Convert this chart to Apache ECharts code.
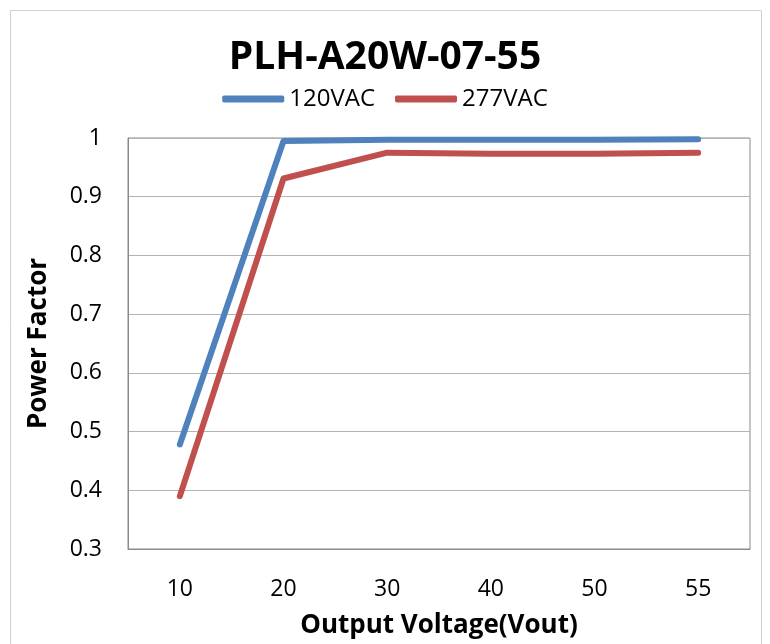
<!DOCTYPE html>
<html><head><meta charset="utf-8">
<script src="https://cdn.jsdelivr.net/npm/echarts@6/dist/echarts.min.js"></script>
<style>html,body{margin:0;padding:0;background:#fff}#c{width:770px;height:644px}</style>
</head><body><div id="c"></div>
<script>
const categories = ['10','20','30','40','50','55'];
const series120 = [0.478, 0.995, 0.997, 0.997, 0.997, 0.998];
const series277 = [0.390, 0.931, 0.975, 0.973, 0.973, 0.975];
const yTicks = [0.3, 0.4, 0.5, 0.6, 0.7, 0.8, 0.9, 1];

const chart = echarts.init(document.getElementById('c'), null, {renderer:'canvas'});
const font = '"Open Sans", "Liberation Sans", sans-serif';
chart.setOption({
  animation:false,
  backgroundColor:'#fff',
  graphic:[{type:'rect', shape:{x:10.5,y:10.5,width:751,height:640}, style:{fill:'none', stroke:'#d0d0d0', lineWidth:1}, silent:true}],
  title:{text:'PLH-A20W-07-55', left:'center', top:33,
    textStyle:{fontFamily:font, fontSize:39, fontWeight:'bold', color:'#000'}},
  legend:{top:82, left:'center', itemWidth:62, itemHeight:7, itemGap:20,
    icon:'roundRect',
    textStyle:{fontFamily:font, fontSize:24, color:'#000'},
    data:['120VAC','277VAC']},
  grid:{left:128, right:20, top:138, bottom:94, show:true, borderColor:'#8a8a8a', borderWidth:1},
  xAxis:{type:'category', data:categories, boundaryGap:true,
    name:'Output Voltage(Vout)', nameLocation:'middle', nameGap:64,
    nameTextStyle:{fontFamily:font, fontSize:26, fontWeight:'bold', color:'#000'},
    axisLine:{show:true, lineStyle:{color:'#8a8a8a'}}, axisTick:{show:false},
    axisLabel:{fontFamily:font, fontSize:23, color:'#000', margin:29}},
  yAxis:{type:'value', min:0.3, max:1, interval:0.1,
    name:'Power Factor', nameLocation:'middle', nameGap:76,
    nameTextStyle:{fontFamily:font, fontSize:26, fontWeight:'bold', color:'#000'},
    axisLine:{show:true, lineStyle:{color:'#8a8a8a'}}, axisTick:{show:false},
    splitLine:{lineStyle:{color:'#b4b4b4', width:1}},
    axisLabel:{fontFamily:font, fontSize:23, color:'#000', margin:26,
      formatter:function(v){ const r=Math.round(v*10)/10; return yTicks.includes(r)? String(r):''; }}},
  series:[
    {name:'120VAC', type:'line', data:series120, symbol:'none', lineStyle:{width:6, color:'#4f81bd', cap:'round', join:'round'}, itemStyle:{color:'#4f81bd'}},
    {name:'277VAC', type:'line', data:series277, symbol:'none', lineStyle:{width:6, color:'#c0504d', cap:'round', join:'round'}, itemStyle:{color:'#c0504d'}}
  ]
});
</script></body></html>
